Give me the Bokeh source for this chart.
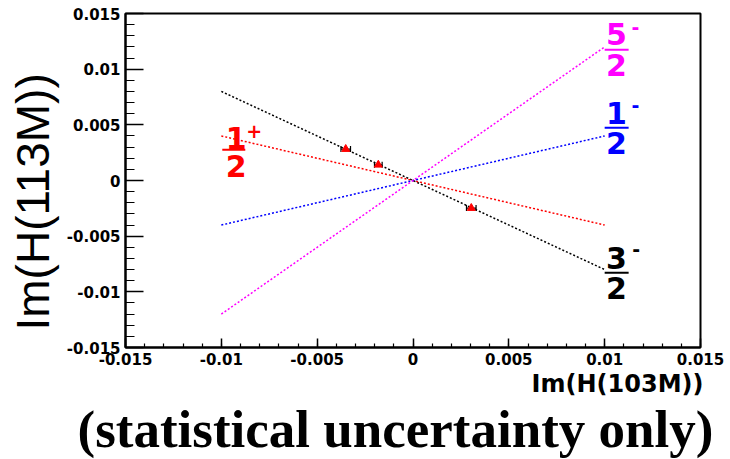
import math
import numpy as np
from bokeh.plotting import figure
from bokeh.models import (Range1d, FixedTicker, CustomJSTickFormatter, Label, Title,
                          ColumnDataSource, Whisker, TeeHead)
from bokeh.embed import file_html
from bokeh.resources import INLINE

# ---- data ----
line_x = [-0.01, 0.01]
y_three_half_minus = [0.008, -0.008]   # black 3/2-
y_one_half_plus = [0.004, -0.004]      # red 1/2+
y_one_half_minus = [-0.004, 0.004]     # blue 1/2-
y_five_half_minus = [-0.012, 0.012]    # magenta 5/2-

pt_x = [-0.00351, -0.00181, 0.00304]
pt_y = [0.00282, 0.00141, -0.00248]
pt_xerr = [0.00025, 0.0002, 0.00025]

tick_vals = [-0.015, -0.01, -0.005, 0, 0.005, 0.01, 0.015]
minor_vals = [round(v, 4) for v in np.arange(-0.015, 0.01505, 0.001)]

p = figure(width=730, height=459, output_backend="svg", toolbar_location=None,
           x_range=Range1d(-0.015, 0.015), y_range=Range1d(-0.015, 0.015),
           min_border_left=123, min_border_right=30, min_border_top=13,
           min_border_bottom=112)
p.background_fill_color = "white"
p.border_fill_color = "white"
p.outline_line_color = "black"
p.outline_line_width = 2
p.xgrid.visible = False
p.ygrid.visible = False

fmt = CustomJSTickFormatter(code="return String(tick)")
for ax, tin, mtin, so in [(p.xaxis[0], 9, 4, 5), (p.yaxis[0], 18, 9, 5)]:
    ax.ticker = FixedTicker(ticks=tick_vals, minor_ticks=minor_vals)
    ax.formatter = fmt
    ax.major_tick_in = tin
    ax.major_tick_out = 0
    ax.minor_tick_in = mtin
    ax.minor_tick_out = 0
    ax.axis_line_width = 2
    ax.major_tick_line_width = 1.5
    ax.minor_tick_line_width = 1.2
    ax.major_label_text_font = "DejaVu Sans"
    ax.major_label_text_font_style = "bold"
    ax.major_label_text_font_size = "15px"
    ax.major_label_text_color = "black"
    ax.major_label_standoff = so

dash = "2 2"
p.line(line_x, y_three_half_minus, line_color="black", line_width=1.5, line_dash=dash)
p.line(line_x, y_one_half_plus, line_color="#ff0000", line_width=1.5, line_dash=dash)
p.line(line_x, y_one_half_minus, line_color="#0000ff", line_width=1.5, line_dash=dash)
p.line(line_x, y_five_half_minus, line_color="#ff00ff", line_width=1.5, line_dash=dash)

src = ColumnDataSource(dict(x=pt_x, y=pt_y,
                            lo=[a - e for a, e in zip(pt_x, pt_xerr)],
                            hi=[a + e for a, e in zip(pt_x, pt_xerr)]))
p.add_layout(Whisker(source=src, base="y", lower="lo", upper="hi", dimension="width",
                     line_color="black", line_width=1.2,
                     lower_head=TeeHead(size=6, line_color="black", line_width=1.2),
                     upper_head=TeeHead(size=6, line_color="black", line_width=1.2)))
p.scatter("x", "y", source=src, marker="triangle", size=8,
          fill_color="#ff0000", line_color="#ff0000")

# ---- fraction labels ----
fracs = [
    # num, sup, color, x_center, y_num, y_bar, y_den, x_sup, y_sup, bar_x0, bar_x1
    ("5", "-", "#ff00ff", 0.01062, 0.01318, 0.01174, 0.01039, 0.01160, 0.01380, 0.01000, 0.01125),
    ("1", "-", "#0000ff", 0.01062, 0.00608, 0.00473, 0.00339, 0.01160, 0.00679, 0.01000, 0.01125),
    ("3", "-", "black", 0.01062, -0.00694, -0.00829, -0.00964, 0.01165, -0.00614, 0.01000, 0.01125),
    ("1", "+", "#ff0000", -0.00922, 0.00384, 0.00276, 0.00132, -0.00828, 0.00445, -0.00995, -0.00875),
]
for num, sup, col, xc, yn, yb, yd, xs, ys, bx0, bx1 in fracs:
    p.add_layout(Label(x=xc, y=yn, text=num, text_color=col, text_font="DejaVu Sans",
                       text_font_style="bold", text_font_size="30px",
                       text_align="center", text_baseline="middle"))
    p.add_layout(Label(x=xc, y=yd, text="2", text_color=col, text_font="DejaVu Sans",
                       text_font_style="bold", text_font_size="30px",
                       text_align="center", text_baseline="middle"))
    p.add_layout(Label(x=xs, y=ys, text=sup, text_color=col, text_font="DejaVu Sans",
                       text_font_style="bold", text_font_size="19px",
                       text_align="center", text_baseline="middle"))
    p.segment(x0=[bx0], y0=[yb], x1=[bx1], y1=[yb], line_color=col, line_width=2)

# ---- titles ----
p.add_layout(Title(text="Im(H(113M))", align="left", offset=17, standoff=9,
                   text_font="Liberation Sans", text_font_style="normal",
                   text_font_size="46px", text_color="black"), "left")
p.add_layout(Title(text="Im(H(103M))", align="right", offset=-3, standoff=0,
                   text_font="DejaVu Sans", text_font_style="bold",
                   text_font_size="24px", text_color="black"), "below")
p.add_layout(Title(text="(statistical uncertainty only)", align="left", offset=-48,
                   standoff=0, text_font="Liberation Serif", text_font_style="bold",
                   text_font_size="53px", text_color="black"), "below")

open("out.html", "w").write(file_html(p, INLINE))
